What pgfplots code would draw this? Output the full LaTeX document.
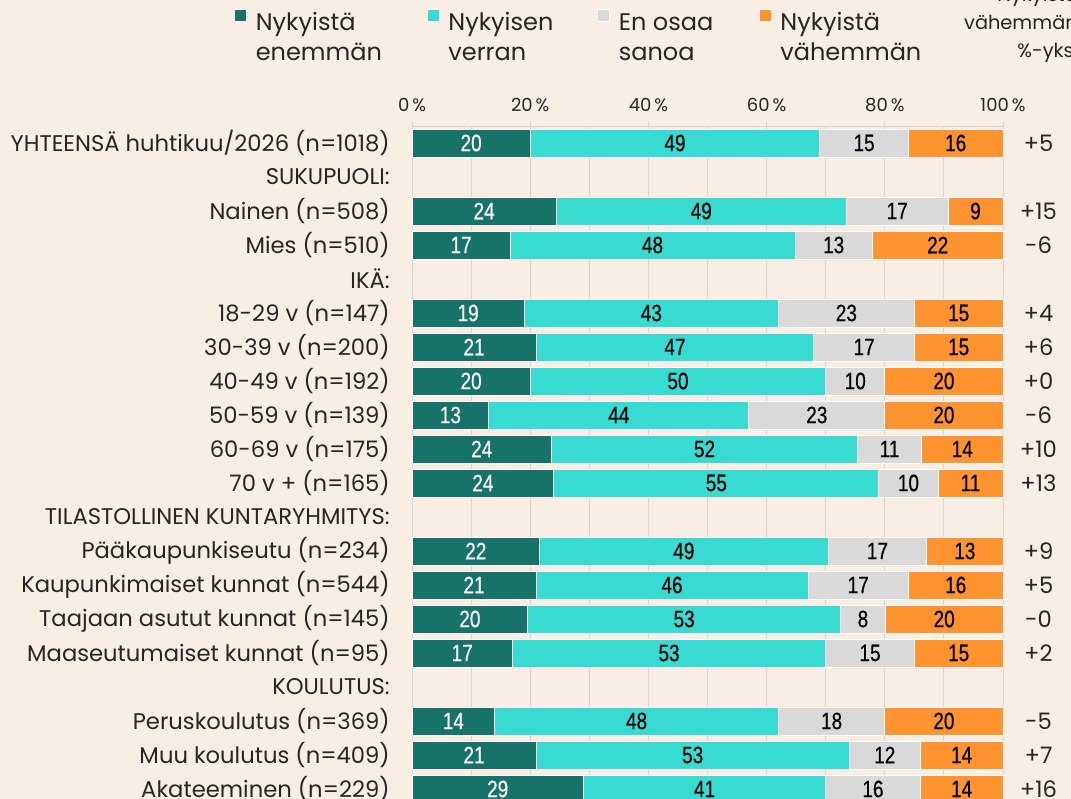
\documentclass[border=0pt]{standalone}
\usepackage{fontspec}
\setmainfont{Poppins}
\newfontfamily\numfont[FakeStretch=0.8,FakeBold=0.4]{Liberation Sans}
\usepackage{pgfplots}
\usepackage{pgfplotstable}
\pgfplotsset{compat=1.18}
\definecolor{bg}{HTML}{F8EEE4}
\definecolor{c1}{HTML}{177369}
\definecolor{c2}{HTML}{38DBD1}
\definecolor{c3}{HTML}{D9D9D9}
\definecolor{c4}{HTML}{FF932F}
\definecolor{gridc}{HTML}{DCD5CE}
\definecolor{txt}{HTML}{262626}
\newcommand\labfont{\fontsize{17pt}{19pt}\selectfont}
\newcommand\legfont{\fontsize{18pt}{20pt}\selectfont}
\newcommand\ticfont{\fontsize{13.5pt}{15pt}\selectfont}
\newcommand\barfont{\numfont\fontsize{17.8pt}{19pt}\selectfont}

\pgfplotstableread{
row a b c d la lb lc ld diff
1 20 49 15 16 20 49 15 16 +5
3 24.4 49.1 17.2 9.3 24 49 17 9 +15
4 16.6 48.2 13.1 22.1 17 48 13 22 -6
6 19 43 23 15 19 43 23 15 +4
7 21 47 17 15 21 47 17 15 +6
8 20 50 10 20 20 50 10 20 +0
9 13 44 23 20 13 44 23 20 -6
10 23.6 51.8 10.8 13.8 24 52 11 14 +10
11 24 55 10 11 24 55 10 11 +13
13 21.6 48.8 16.7 12.9 22 49 17 13 +9
14 21 46 17 16 21 46 17 16 +5
15 19.6 52.9 7.6 19.9 20 53 8 20 -0
16 17 53 15 15 17 53 15 15 +2
18 14 48 18 20 14 48 18 20 -5
19 21 53 12 14 21 53 12 14 +7
20 29 41 16 14 29 41 16 14 +16
}\data
\pgfplotstablecreatecol[create col/expr={\thisrow{a}/2}]{ca}{\data}
\pgfplotstablecreatecol[create col/expr={\thisrow{a}+\thisrow{b}/2}]{cb}{\data}
\pgfplotstablecreatecol[create col/expr={\thisrow{a}+\thisrow{b}+\thisrow{c}/2}]{cc}{\data}
\pgfplotstablecreatecol[create col/expr={\thisrow{a}+\thisrow{b}+\thisrow{c}+\thisrow{d}/2}]{cd}{\data}

\pgfplotsset{
  geom/.style={
    at={(309pt,-94.5pt)}, anchor=north west,
    x=4.4325pt, y=25.5pt, y dir=reverse,
    xmin=0, xmax=100, ymin=0.5, ymax=20.5,
    clip=false,
  },
  sqleg/.style={legend image code/.code={\fill[##1] (0pt,2.25pt) rectangle (9pt,11.25pt);}},
  vlab/.style={draw=none, mark=none, nodes near coords, point meta=explicit symbolic,
    nodes near coords style={font=\barfont, text=#1, anchor=center, inner sep=0pt}},
}

\begin{document}
\begin{tikzpicture}[x=0.75pt,y=-0.75pt]
\fill[bg] (-5,-5) rectangle (1076,804);
\begin{axis}[geom,
  xbar stacked, bar width=21pt,
  axis line style={draw=none},
  xtick={0,20,...,100},
  xticklabels={0\,\%,20\,\%,40\,\%,60\,\%,80\,\%,100\,\%},
  minor xtick={10,30,50,70,90},
  xmajorgrids, xminorgrids,
  major grid style={gridc, line width=0.75pt},
  minor grid style={gridc, line width=0.75pt},
  xtick pos=right, xticklabel pos=right,
  tick align=outside,
  xtick style={draw=gridc, line width=0.75pt},
  major tick length=3pt, minor tick length=0pt,
  xticklabel style={font=\ticfont, text=txt, inner sep=0pt, yshift=7.5pt},
  ytick={1,...,20},
  yticklabels={YHTEENSÄ huhtikuu/2026 (n=1018),SUKUPUOLI:,Nainen (n=508),Mies (n=510),IKÄ:,18-29 v (n=147),30-39 v (n=200),40-49 v (n=192),50-59 v (n=139),60-69 v (n=175),70 v + (n=165),TILASTOLLINEN KUNTARYHMITYS:,Pääkaupunkiseutu (n=234),Kaupunkimaiset kunnat (n=544),Taajaan asutut kunnat (n=145),Maaseutumaiset kunnat (n=95),KOULUTUS:,Peruskoulutus (n=369),Muu koulutus (n=409),Akateeminen (n=229)},
  ytick style={draw=none},
  yticklabel style={font=\labfont, text=txt, anchor=east, inner sep=0pt, xshift=-13.5pt},
  legend style={at={(axis description cs:-0.301,1.172)}, anchor=north west,
    draw=none, fill=none, legend columns=4, font=\legfont, text=txt,
    inner sep=0pt, row sep=5.5pt,
    nodes={inner sep=0pt, text height=13pt, text depth=4pt},
    /tikz/every odd column/.append style={column sep=6.5pt},
    /tikz/column 2/.append style={column sep=33.75pt},
    /tikz/column 4/.append style={column sep=33pt},
    /tikz/column 6/.append style={column sep=34.25pt}},
  legend cell align=left,
]
\addplot[fill=c1, draw=white, line width=0.6pt, sqleg] table[x=a,y=row]{\data};
\addlegendentry{Nykyistä}
\addplot[fill=c2, draw=white, line width=0.6pt, sqleg] table[x=b,y=row]{\data};
\addlegendentry{Nykyisen}
\addplot[fill=c3, draw=white, line width=0.6pt, sqleg] table[x=c,y=row]{\data};
\addlegendentry{En osaa}
\addplot[fill=c4, draw=white, line width=0.6pt, sqleg] table[x=d,y=row]{\data};
\addlegendentry{Nykyistä}
\addlegendimage{empty legend}\addlegendentry{enemmän}
\addlegendimage{empty legend}\addlegendentry{verran}
\addlegendimage{empty legend}\addlegendentry{sanoa}
\addlegendimage{empty legend}\addlegendentry{vähemmän}
\draw[gridc, line width=0.75pt] (axis cs:0,0.5) -- (axis cs:100,0.5);
\end{axis}
\begin{axis}[geom, hide axis]
\addplot[vlab=white] table[x=ca,y=row,meta=la]{\data};
\addplot[vlab=black] table[x=cb,y=row,meta=lb]{\data};
\addplot[vlab=black] table[x=cc,y=row,meta=lc]{\data};
\addplot[vlab=black] table[x=cd,y=row,meta=ld]{\data};
\addplot[draw=none, mark=none, nodes near coords, point meta=explicit symbolic,
  nodes near coords style={font=\labfont, text=txt, anchor=center, inner sep=0pt}]
  table[x expr=106, y=row, meta=diff]{\data};
\end{axis}
\begin{scope}[font=\fontsize{14.5pt}{16pt}\selectfont, text=txt]
\node[anchor=base east, inner sep=0pt] at (1078,2) {Nykyistä};
\node[anchor=base east, inner sep=0pt] at (1078,30) {vähemmän};
\node[anchor=base east, inner sep=0pt] at (1078,58) {\%-yks.};
\end{scope}
\pgfresetboundingbox
\path[use as bounding box] (0,0) rectangle (1071,799);
\end{tikzpicture}
\end{document}
